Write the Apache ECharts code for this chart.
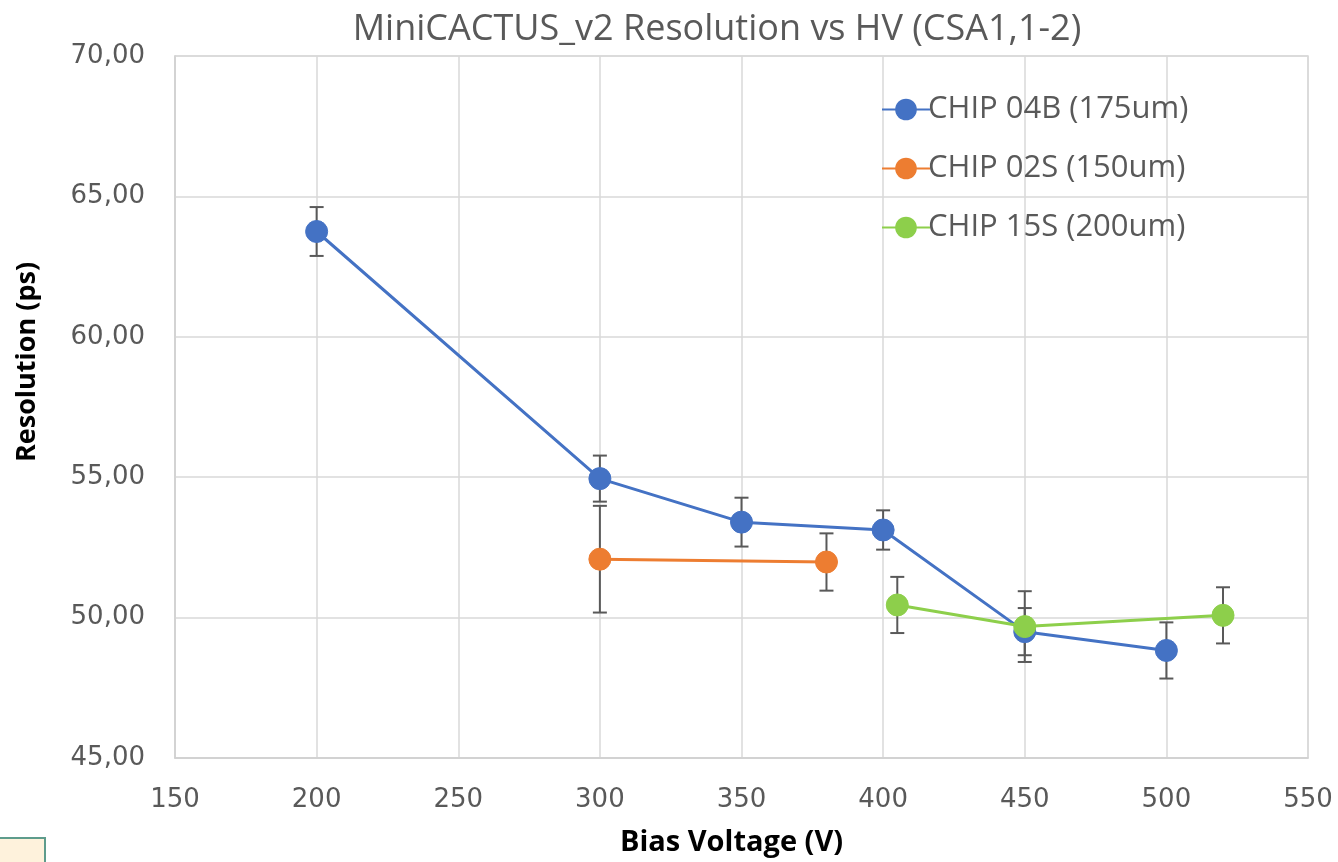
<!DOCTYPE html>
<html>
<head>
    <meta charset="utf-8">
    <title>MiniCACTUS_v2 Resolution vs HV</title>
    <script src="https://cdn.jsdelivr.net/npm/echarts@6/dist/echarts.min.js"></script>
    <style>
        html, body { margin: 0; padding: 0; background: #fff; }
        #chart { width: 1338px; height: 862px; }
    </style>
</head>
<body>
<div id="chart"></div>
<script>
    // 数据：偏压 (V)、分辨率 (ps)、误差
    var chip04bV = [200, 300, 350, 400, 450, 500];
    var chip04bRes = [63.75, 54.95, 53.40, 53.12, 49.50, 48.83];
    var chip04bErr = [0.87, 0.82, 0.87, 0.70, 0.84, 1.00];

    var chip02sV = [300, 380];
    var chip02sRes = [52.08, 51.98];
    var chip02sErr = [1.90, 1.02];

    var chip15sV = [405, 450, 520];
    var chip15sRes = [50.45, 49.68, 50.08];
    var chip15sErr = [1.00, 1.26, 1.00];

    var seriesNames = ['CHIP 04B (175um)', 'CHIP 02S (150um)', 'CHIP 15S (200um)'];
    var COLORS = ['#4472C4', '#ED7D31', '#8DCF4B'];

    var xTicks = [150, 200, 250, 300, 350, 400, 450, 500, 550];
    var yTicks = [45, 50, 55, 60, 65, 70];

    var FONT = '"Open Sans", "Noto Sans", sans-serif';
    var TICK_FONT = '"DejaVu Sans", sans-serif';
    var GREY = '#595959';

    function pairs(xs, ys) {
        var out = [];
        for (var i = 0; i < xs.length; i++) out.push([xs[i], ys[i]]);
        return out;
    }
    function errPairs(xs, ys, es) {
        var out = [];
        for (var i = 0; i < xs.length; i++) out.push([xs[i], ys[i] - es[i], ys[i] + es[i]]);
        return out;
    }

    // 误差棒
    function renderErr(params, api) {
        var x = api.value(0);
        var lo = api.coord([x, api.value(1)]);
        var hi = api.coord([x, api.value(2)]);
        var cap = 7;
        var st = { stroke: '#595959', lineWidth: 2 };
        return {
            type: 'group',
            children: [
                { type: 'line', shape: { x1: lo[0], y1: lo[1], x2: hi[0], y2: hi[1] }, style: st },
                { type: 'line', shape: { x1: lo[0] - cap, y1: lo[1], x2: lo[0] + cap, y2: lo[1] }, style: st },
                { type: 'line', shape: { x1: hi[0] - cap, y1: hi[1], x2: hi[0] + cap, y2: hi[1] }, style: st }
            ]
        };
    }

    var xsAll = [chip04bV, chip02sV, chip15sV];
    var ysAll = [chip04bRes, chip02sRes, chip15sRes];
    var esAll = [chip04bErr, chip02sErr, chip15sErr];

    var series = [];
    for (var i = 0; i < 3; i++) {
        series.push({
            type: 'custom',
            name: seriesNames[i] + ' err',
            renderItem: renderErr,
            data: errPairs(xsAll[i], ysAll[i], esAll[i]),
            z: 1,
            silent: true
        });
    }
    for (var j = 0; j < 3; j++) {
        series.push({
            type: 'line',
            name: seriesNames[j],
            data: pairs(xsAll[j], ysAll[j]),
            color: COLORS[j],
            symbol: 'circle',
            symbolSize: 22,
            showAllSymbol: true,
            lineStyle: { width: 3 },
            itemStyle: { color: COLORS[j], borderColor: COLORS[j] },
            z: 3
        });
    }

    var chart = echarts.init(document.getElementById('chart'));
    chart.setOption({
        animation: false,
        backgroundColor: '#fff',
        title: {
            text: 'MiniCACTUS_v2 Resolution vs HV (CSA1,1-2)',
            left: 712,
            textAlign: 'center',
            top: 7,
            textStyle: { fontFamily: FONT, fontSize: 36, fontWeight: 'normal', color: GREY }
        },
        legend: {
            data: seriesNames,
            orient: 'vertical',
            left: 876,
            top: 89,
            itemWidth: 48,
            itemHeight: 27,
            itemGap: 28,
            textStyle: { fontFamily: FONT, fontSize: 31, color: GREY, padding: [0, 0, 0, -7] }
        },
        grid: { left: 175, right: 30, top: 56, bottom: 104, show: true, borderColor: '#d9d9d9', borderWidth: 1.5 },
        xAxis: {
            type: 'value',
            min: xTicks[0],
            max: xTicks[xTicks.length - 1],
            interval: 50,
            name: 'Bias Voltage (V)',
            nameLocation: 'middle',
            nameGap: 70,
            nameTextStyle: { fontFamily: FONT, fontSize: 29, fontWeight: 'bold', color: '#000', padding: [0, 20, 0, 0] },
            axisLine: { show: true, lineStyle: { color: '#d0d0d0', width: 1.5 } },
            axisTick: { show: false },
            axisLabel: { fontFamily: TICK_FONT, fontSize: 26, color: GREY, margin: 29 },
            splitLine: { show: true, lineStyle: { color: '#d9d9d9', width: 1.5 } }
        },
        yAxis: {
            type: 'value',
            min: yTicks[0],
            max: yTicks[yTicks.length - 1],
            interval: 5,
            name: 'Resolution (ps)',
            nameLocation: 'middle',
            nameGap: 134,
            nameTextStyle: { fontFamily: FONT, fontSize: 27, fontWeight: 'bold', color: '#000', padding: [0, 0, 0, 90] },
            axisLine: { show: true, lineStyle: { color: '#d0d0d0', width: 1.5 } },
            axisTick: { show: false },
            axisLabel: {
                fontFamily: TICK_FONT, fontSize: 26, color: GREY, margin: 30,
                formatter: function (v) { return v.toFixed(2).replace('.', ','); }
            },
            splitLine: { show: true, lineStyle: { color: '#d9d9d9', width: 1.5 } }
        },
        graphic: [{
            type: 'rect',
            shape: { x: -2, y: 838, width: 47, height: 30 },
            style: { fill: '#FEF2DC', stroke: '#5E9C8C', lineWidth: 2 }
        }],
        series: series
    });

    window.onresize = function () {
        chart.resize();
    };
</script>
</body>
</html>
